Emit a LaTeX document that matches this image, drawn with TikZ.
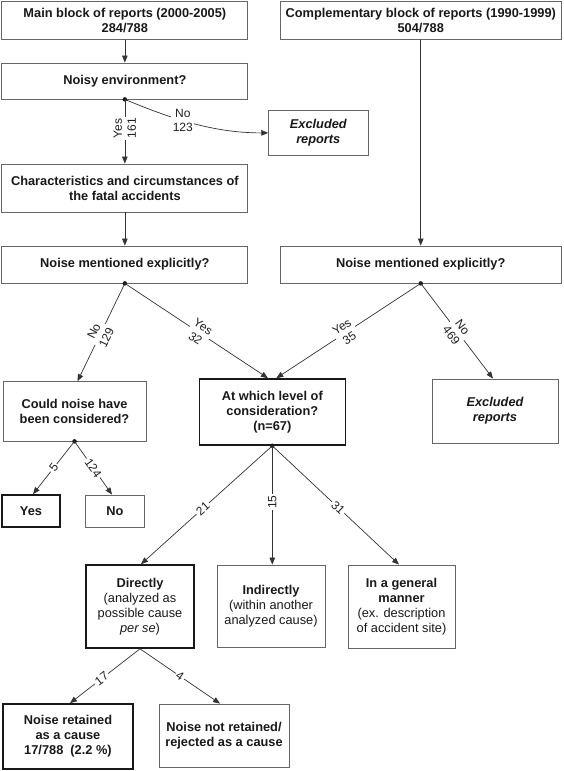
\documentclass[tikz,border=0pt]{standalone}
\usepackage{fontspec}
\setmainfont{Liberation Sans}
\usetikzlibrary{arrows.meta,calc}
\begin{document}
\begin{tikzpicture}[x=1pt,y=-1pt,
  box/.style={draw=black!60, line width=0.8pt, inner sep=0pt, align=center,
    font=\fontsize{12.8}{15}\selectfont\bfseries, text=black!90},
  tbox/.style={box, draw=black!90, line width=1.6pt},
  arr/.style={draw=black!80, line width=0.7pt, -{Triangle[length=7pt,width=5.5pt]}},
  lbl/.style={fill=white, inner sep=1.5pt, align=center,
    font=\fontsize{12}{14}\selectfont, text=black!88},
  dot/.style={circle, fill=black!90, inner sep=0pt, minimum size=4.5pt}
]
\useasboundingbox[fill=white] (0,0) rectangle (563,771);

% boxes
\node[box, minimum width=246pt, minimum height=38pt] (main) at (124.85,20.2)
  {Main block of reports (2000-2005)\\284/788};
\node[box, minimum width=281.5pt, minimum height=38pt] (comp) at (420.75,20.2)
  {Complementary block of reports (1990-1999)\\504/788};
\node[box, minimum width=246pt, minimum height=36pt] (noisy) at (124.85,81)
  {Noisy environment?};
\node[box, minimum width=99.3pt, minimum height=44.3pt] (excl1) at (318.3,132.9)
  {\itshape Excluded\\\itshape reports};
\node[box, minimum width=246pt, minimum height=48pt] (chars) at (124.85,188)
  {Characteristics and circumstances of\\the fatal accidents};
\node[box, minimum width=246pt, minimum height=37pt] (nmL) at (124.85,264.5)
  {Noise mentioned explicitly?};
\node[box, minimum width=281.5pt, minimum height=37pt] (nmR) at (420.75,264.5)
  {Noise mentioned explicitly?};
\node[box, minimum width=143pt, minimum height=59.3pt] (could) at (74.5,411.3)
  {Could noise have\\been considered?};
\node[tbox, minimum width=146pt, minimum height=66pt] (level) at (272.3,412)
  {At which level of\\consideration?\\(n=67)};
\node[box, minimum width=126pt, minimum height=64pt] (excl2) at (495,411)
  {\itshape Excluded\\\itshape reports};
\node[tbox, minimum width=58pt, minimum height=32pt] (yesb) at (31,511) {Yes};
\node[box, minimum width=58.3pt, minimum height=32pt] (nob) at (115,511) {No};
\node[tbox, minimum width=108pt, minimum height=83pt] (direct) at (140,606.5)
  {Directly\\\mdseries (analyzed as\\\mdseries possible cause\\\mdseries\itshape per se\upshape)};
\node[box, minimum width=108pt, minimum height=82pt] (indirect) at (271,606)
  {Indirectly\\\mdseries (within another\\\mdseries analyzed cause)};
\node[box, minimum width=107pt, minimum height=83pt] (general) at (401.5,606.5)
  {In a general\\manner\\\mdseries (ex. description\\\mdseries of accident site)};
\node[tbox, minimum width=130pt, minimum height=65pt] (retained) at (68,736.5)
  {Noise retained\\as a cause\\17/788\ \ (2.2 \%)};
\node[box, minimum width=130pt, minimum height=63pt] (notret) at (224,735.5)
  {Noise not retained/\\rejected as a cause};

% dots
\node[dot] (d1) at (noisy.south) {};
\node[dot] (d2) at (nmL.south) {};
\node[dot] (d3) at (nmR.south) {};
\node[dot] (d4) at (could.south) {};
\node[dot] (d5) at (level.south) {};

% connectors
\draw[arr] (main.south) -- (noisy.north);
\draw[arr] (d1.center) -- node[lbl, rotate=90, pos=0.45]{Yes\\161} (chars.north);
\draw[arr] (d1.center) .. controls (165,116) and (210,133) .. (excl1.west)
  node[lbl, pos=0.45]{No\\123};
\draw[arr] (chars.south) -- (nmL.north);
\draw[arr] (comp.south) -- (nmR.north);

\draw[arr] (d2.center) -- node[lbl, sloped, pos=0.52]{No\\129} ([xshift=3pt]could.north);
\draw[arr] (d2.center) -- node[lbl, sloped, pos=0.52]{Yes\\32} ([xshift=-4.3pt]level.north);
\draw[arr] (d3.center) -- node[lbl, sloped, pos=0.52]{Yes\\35} ([xshift=4pt]level.north);
\draw[arr] (d3.center) -- node[lbl, sloped, pos=0.5]{No\\469} ([xshift=-2pt]excl2.north);

\draw[arr] (d4.center) -- node[lbl, sloped, pos=0.5]{5} ([xshift=2pt]yesb.north);
\draw[arr] (d4.center) -- node[lbl, sloped, pos=0.5]{124} ([xshift=-3pt]nob.north);

\draw[arr] (d5.center) -- node[lbl, sloped, pos=0.53]{21} ([xshift=1pt]direct.north);
\draw[arr] (d5.center) -- node[lbl, rotate=90, pos=0.475]{15} (d5.center |- indirect.north);
\draw[arr] (d5.center) -- node[lbl, sloped, pos=0.52]{31} ([xshift=-2.5pt]general.north);

\draw[arr] (direct.south) -- node[lbl, sloped, pos=0.55]{17} ([xshift=2pt]retained.north);
\draw[arr] (direct.south) -- node[lbl, sloped, pos=0.5]{4} ([xshift=-4pt]notret.north);
\end{tikzpicture}
\end{document}
